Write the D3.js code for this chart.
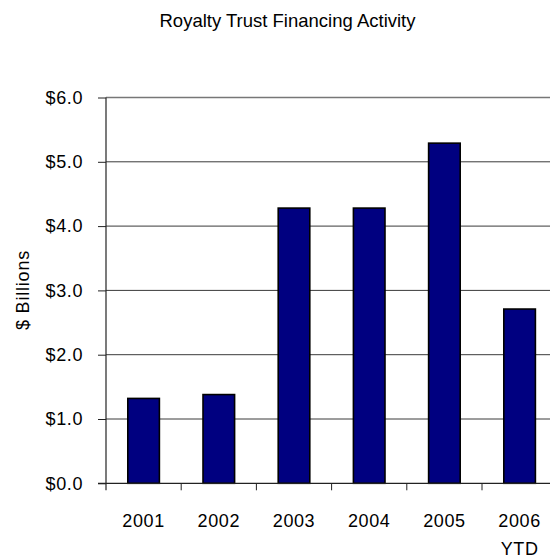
<!DOCTYPE html>
<html>
<head>
<meta charset="utf-8">
<script src="https://cdn.jsdelivr.net/npm/d3@7"></script>
<style>
  html, body { margin: 0; padding: 0; background: #fff; }
  svg { display: block; }
  text { font-family: "Liberation Sans", Arial, sans-serif; fill: #000; }
</style>
</head>
<body>
<svg id="chart" width="550" height="558"></svg>
<script>
// Royalty trust financing, $ billions per year
const years = ["2001", "2002", "2003", "2004", "2005", "2006"];
const subLabels = ["", "", "", "", "", "YTD"];
const values = [1.32, 1.38, 4.28, 4.28, 5.29, 2.71];
const yTicks = [0, 1, 2, 3, 4, 5, 6];
const titleText = "Royalty Trust Financing Activity";
const yTitle = "$ Billions";

const svg = d3.select("#chart");

const x = d3.scaleBand()
  .domain(years)
  .range([106, 557.2])
  .paddingInner(0.58)
  .paddingOuter(0.29);

const y = d3.scaleLinear()
  .domain([0, 6])
  .range([483.3, 97.5]);

// Horizontal gridlines
svg.append("g")
  .selectAll("line")
  .data(yTicks.slice(1))
  .join("line")
  .attr("x1", 106)
  .attr("x2", 550)
  .attr("y1", d => y(d))
  .attr("y2", d => y(d))
  .attr("stroke", d => d === 6 ? "#777" : "#3a3a3a")
  .attr("stroke-width", d => d === 6 ? 1.6 : 1);

// Bars
svg.append("g")
  .selectAll("rect")
  .data(values)
  .join("rect")
  .attr("x", (d, i) => x(years[i]))
  .attr("width", x.bandwidth())
  .attr("y", d => y(d))
  .attr("height", d => y(0) - y(d))
  .attr("fill", "#000080")
  .attr("stroke", "#000")
  .attr("stroke-width", 1.6);

// Y axis
const yAxis = d3.axisLeft(y)
  .tickValues(yTicks)
  .tickFormat(d => "$" + d3.format(".1f")(d))
  .tickSize(8)
  .tickPadding(15);

const gy = svg.append("g")
  .attr("transform", "translate(106,0)")
  .call(yAxis);
gy.select(".domain").attr("stroke", "#222").attr("stroke-width", 1.2)
  .attr("d", `M0,${y(6)}V${y(0) + 7}`);
gy.selectAll(".tick line").attr("stroke", "#222");
gy.selectAll(".tick text")
  .style("font-size", "18px")
  .style("letter-spacing", "0.6px")
  .attr("font-family", null);

// X axis: tick marks at category boundaries
const boundaries = years.map(c => x(c) - x.step() * x.paddingInner() / 2);
svg.append("line")
  .attr("x1", 98).attr("x2", 550)
  .attr("y1", y(0)).attr("y2", y(0))
  .attr("stroke", "#222").attr("stroke-width", 1.2);
svg.append("g")
  .selectAll("line")
  .data(boundaries.slice(1))
  .join("line")
  .attr("x1", d => d).attr("x2", d => d)
  .attr("y1", y(0)).attr("y2", y(0) + 7)
  .attr("stroke", "#222");

// Category labels
const xl = svg.append("g");
xl.selectAll("text.yr")
  .data(years)
  .join("text")
  .attr("class", "yr")
  .attr("x", d => x(d) + x.bandwidth() / 2)
  .attr("y", 526.5)
  .attr("text-anchor", "middle")
  .style("font-size", "18px")
  .style("letter-spacing", "0.6px")
  .text(d => d);
xl.selectAll("text.sub")
  .data(years.filter((d, i) => subLabels[i]))
  .join("text")
  .attr("class", "sub")
  .attr("x", d => x(d) + x.bandwidth() / 2)
  .attr("y", 555)
  .attr("text-anchor", "middle")
  .style("font-size", "18px")
  .style("letter-spacing", "0.6px")
  .text(d => subLabels[years.indexOf(d)]);

// Axis title
svg.append("text")
  .attr("transform", "translate(29,290) rotate(-90)")
  .attr("text-anchor", "middle")
  .style("font-size", "18px")
  .style("letter-spacing", "0.8px")
  .text(yTitle);

// Chart title
svg.append("text")
  .attr("x", 287.5)
  .attr("y", 27)
  .attr("text-anchor", "middle")
  .style("font-size", "18.5px")
  .text(titleText);
</script>
</body>
</html>
